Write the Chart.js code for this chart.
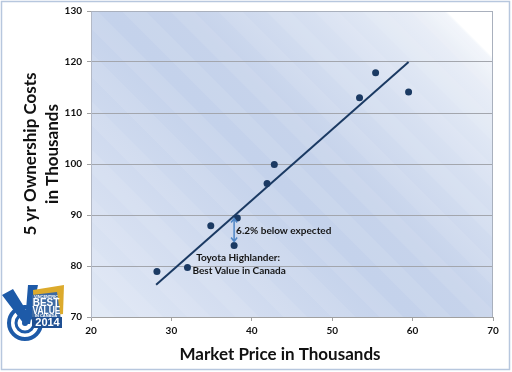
<!DOCTYPE html>
<html>
<head>
<meta charset="utf-8">
<script src="https://cdn.jsdelivr.net/npm/chart.js@4.4.1/dist/chart.umd.min.js"></script>
<style>
  html, body { margin: 0; padding: 0; background: #fff; }
  #wrap { width: 512px; height: 372px; }
</style>
</head>
<body>
<div id="wrap"><canvas id="chart" width="512" height="372"></canvas></div>
<script>
// Market price vs 5-year ownership cost, with a fitted trend line.

const PRICE = [28.2, 32.0, 34.9, 38.2, 37.8, 41.9, 42.8, 53.4, 55.4, 59.5];
const COST  = [78.9, 79.7, 87.9, 89.4, 84.0, 96.2, 99.9, 113.0, 117.9, 114.1];

// trend line end points
const TREND_X = [28.1, 59.5];
const TREND_Y = [76.3, 120.0];

const X_TICKS = [20, 30, 40, 50, 60, 70];
const Y_TICKS = [70, 80, 90, 100, 110, 120, 130];

// the Highlander gap arrow: price, then cost at the point and on the trend
const GAP_X = 37.8;
const GAP_Y = [84.4, 89.7];
const GAP_NOTE = '6.2% below expected';
const CAR_NOTE = ['Toyota Highlander:', 'Best Value in Canada'];

const X_TITLE = 'Market Price in Thousands';
const Y_TITLE = ['5 yr Ownership Costs', 'in Thousands'];

const NAVY = '#1b3a63';
const FONT = 'Lato, "Open Sans", sans-serif';

// plot area background: diagonal banded blue gradient, fading to white top-right
const backdrop = {
  id: 'backdrop',
  beforeDraw(chart) {
    const { ctx, chartArea: a } = chart;
    ctx.save();
    ctx.fillStyle = '#fff';
    ctx.fillRect(0, 0, chart.width, chart.height);

    const w = a.right - a.left, h = a.bottom - a.top, d = (w + h) / 2;
    const g = ctx.createLinearGradient(a.left, a.bottom, a.left + d, a.bottom - d);
    g.addColorStop(0.00, '#e0e8f5');
    g.addColorStop(0.22, '#d3ddf0');
    g.addColorStop(0.45, '#c4d2eb');
    g.addColorStop(0.56, '#c6d3eb');
    g.addColorStop(0.76, '#d9e2f2');
    g.addColorStop(0.89, '#e9eef7');
    g.addColorStop(0.93, '#f3f6fb');
    g.addColorStop(0.935, '#ffffff');
    g.addColorStop(1.00, '#ffffff');
    ctx.fillStyle = g;
    ctx.fillRect(a.left, a.top, w, h);

    // soft stripes for the banding
    ctx.beginPath();
    ctx.rect(a.left, a.top, w, h);
    ctx.clip();
    ctx.translate(a.left, a.bottom);
    ctx.rotate(-Math.PI / 4);
    ctx.fillStyle = 'rgba(255,255,255,0.09)';
    for (let s = 0; s < w + h; s += 34) ctx.fillRect(s, -600, 17, 1200);
    ctx.restore();
  },
  afterDraw(chart) {
    const { ctx, chartArea: a } = chart;
    ctx.save();
    // plot frame top / right
    ctx.strokeStyle = '#a9b0bd';
    ctx.lineWidth = 1;
    ctx.beginPath();
    ctx.moveTo(a.left, a.top + 0.5);
    ctx.lineTo(a.right - 0.5, a.top + 0.5);
    ctx.lineTo(a.right - 0.5, a.bottom);
    ctx.stroke();
    // outer chart border
    ctx.strokeStyle = '#b7c7de';
    ctx.lineWidth = 1.5;
    ctx.strokeRect(1.5, 1.5, 508, 368);

    // axis titles
    ctx.fillStyle = '#111';
    ctx.font = 'bold 17px ' + FONT;
    ctx.textAlign = 'center';
    ctx.textBaseline = 'middle';
    ctx.fillText(X_TITLE, 280, 355);
    ctx.translate(0, 154);
    ctx.rotate(-Math.PI / 2);
    ctx.fillText(Y_TITLE[0], 0, 31);
    ctx.fillText(Y_TITLE[1], 0, 53);
    ctx.restore();

    drawLogo(ctx);
  }
};

// double arrow from the Highlander point up to the trend, plus notes
const gapArrow = {
  id: 'gapArrow',
  afterDatasetsDraw(chart) {
    const { ctx, scales: { x, y } } = chart;
    const px = x.getPixelForValue(GAP_X);
    const lo = y.getPixelForValue(GAP_Y[0]);
    const hi = y.getPixelForValue(GAP_Y[1]);
    ctx.save();
    ctx.strokeStyle = '#4f86c6';
    ctx.lineWidth = 1.5;
    ctx.beginPath();
    ctx.moveTo(px, hi + 2); ctx.lineTo(px, lo - 2);
    ctx.moveTo(px - 3, hi + 6); ctx.lineTo(px, hi + 2); ctx.lineTo(px + 3, hi + 6);
    ctx.moveTo(px - 3, lo - 6); ctx.lineTo(px, lo - 2); ctx.lineTo(px + 3, lo - 6);
    ctx.stroke();

    ctx.fillStyle = '#151515';
    ctx.font = 'bold 10px ' + FONT;
    ctx.textBaseline = 'middle';
    ctx.textAlign = 'left';
    ctx.fillText(GAP_NOTE, px + 2, (hi + lo) / 2 + 1);
    ctx.textAlign = 'center';
    ctx.fillText(CAR_NOTE[0], px + 4, lo + 14);
    ctx.fillText(CAR_NOTE[1], px + 5, lo + 27);
    ctx.restore();
  }
};

function drawLogo(ctx) {
  ctx.save();
  const blue = '#1d5aa8';
  // target rings
  ctx.strokeStyle = blue;
  ctx.lineWidth = 4;
  ctx.beginPath(); ctx.arc(25, 323, 16, 0, Math.PI * 2); ctx.stroke();
  ctx.lineWidth = 3;
  ctx.beginPath(); ctx.arc(25, 323, 9, 0, Math.PI * 2); ctx.stroke();
  ctx.fillStyle = blue;
  ctx.beginPath(); ctx.arc(25, 323, 3, 0, Math.PI * 2); ctx.fill();
  // check mark
  ctx.beginPath();
  ctx.moveTo(2, 295); ctx.lineTo(13, 289); ctx.lineTo(26, 310);
  ctx.lineTo(28, 285); ctx.lineTo(38, 285); ctx.lineTo(30, 324); ctx.lineTo(24, 324);
  ctx.closePath();
  ctx.fill();
  // gold pennant and text panel
  ctx.fillStyle = '#dcaa2c';
  ctx.beginPath();
  ctx.moveTo(33, 290); ctx.lineTo(64, 285); ctx.lineTo(63, 314); ctx.lineTo(34, 318);
  ctx.closePath(); ctx.fill();
  ctx.fillStyle = '#3d6aa3';
  ctx.beginPath();
  ctx.moveTo(32, 295); ctx.lineTo(57, 292); ctx.lineTo(62, 327); ctx.lineTo(32, 328);
  ctx.closePath(); ctx.fill();
  ctx.fillStyle = '#1f4f92';
  ctx.fillRect(32, 317, 30, 11);
  ctx.fillStyle = '#fff';
  ctx.textAlign = 'center';
  ctx.textBaseline = 'middle';
  ctx.font = 'bold 4px "Liberation Sans", sans-serif';
  ctx.fillText('VINCENTRIC', 46, 296.5, 24);
  ctx.font = 'bold 10px "Liberation Sans", sans-serif';
  ctx.fillText('BEST', 46, 303.5, 27);
  ctx.fillText('VALUE', 46.5, 311, 28);
  ctx.font = 'bold 4px "Liberation Sans", sans-serif';
  ctx.fillText('IN CANADA', 46, 316, 24);
  ctx.font = 'bold 11px "Liberation Sans", sans-serif';
  ctx.fillText('2014', 47.5, 322.5, 29);
  ctx.restore();
}

const axisTicks = { color: '#111', font: { family: FONT, size: 10, weight: 'bold' } };

new Chart(document.getElementById('chart'), {
  type: 'scatter',
  data: {
    datasets: [
      {
        data: PRICE.map((p, i) => ({ x: p, y: COST[i] })),
        backgroundColor: NAVY,
        borderWidth: 0,
        pointRadius: 3.5
      },
      {
        type: 'line',
        data: TREND_X.map((p, i) => ({ x: p, y: TREND_Y[i] })),
        borderColor: NAVY,
        borderWidth: 2,
        pointRadius: 0,
        fill: false
      }
    ]
  },
  options: {
    responsive: false,
    animation: false,
    events: [],
    layout: { padding: { left: 0, right: 19, top: 9, bottom: 0 } },
    plugins: { legend: { display: false }, tooltip: { enabled: false } },
    scales: {
      x: {
        type: 'linear',
        min: 20, max: 70,
        afterBuildTicks: s => { s.ticks = X_TICKS.map(v => ({ value: v })); },
        afterFit: s => { s.height = 55; },
        ticks: { ...axisTicks, padding: 4, maxRotation: 0 },
        grid: { drawOnChartArea: false, drawTicks: true, tickLength: 4, tickColor: '#a0a0a0' },
        border: { display: true, color: '#a0a0a0' }
      },
      y: {
        type: 'linear',
        min: 70, max: 130,
        afterBuildTicks: s => { s.ticks = Y_TICKS.map(v => ({ value: v })); },
        afterFit: s => { s.width = 91; },
        ticks: { ...axisTicks, padding: 5 },
        grid: { color: '#a3a6ad', tickLength: 4, tickColor: '#a0a0a0' },
        border: { display: true, color: '#b3b9c6' }
      }
    }
  },
  plugins: [backdrop, gapArrow]
});
</script>
</body>
</html>
